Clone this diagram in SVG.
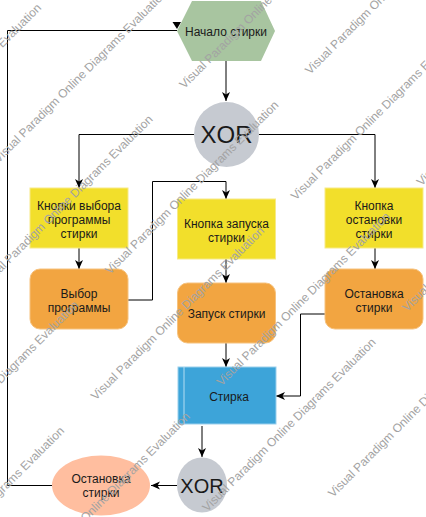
<svg xmlns="http://www.w3.org/2000/svg" width="426" height="517" viewBox="0 0 426 517">
<style>
text{font-family:"Liberation Sans",Arial,sans-serif;fill:#1a1a1a;text-anchor:middle}
.t{font-size:12px}
.c{fill:none;stroke:#000;stroke-width:1}
.y{fill:#F2DF2B;stroke:#F7EA86;stroke-width:1}
.o{fill:#F2A541;stroke:#F6C27E;stroke-width:1}
.x{fill:#C6CAD1}
.wm text{font-size:12px;fill:#a3a3a3;text-anchor:start}
</style>
<defs>
<marker id="ah" markerUnits="userSpaceOnUse" markerWidth="10" markerHeight="9" refX="9" refY="4" orient="auto">
<path d="M0,0 L9,4 L0,8 L2.5,4 Z" fill="#000"/>
</marker>
</defs>
<rect width="426" height="517" fill="#fff"/>
<g id="connectors">
<path class="c" d="M226,61 V101" marker-end="url(#ah)"/>
<path class="c" d="M194,134.5 H79 V188" marker-end="url(#ah)"/>
<path class="c" d="M259,134.5 H375 V188" marker-end="url(#ah)"/>
<path class="c" d="M79,248 V269" marker-end="url(#ah)"/>
<path class="c" d="M375,248 V269" marker-end="url(#ah)"/>
<path class="c" d="M128,300 H152.5 V181.5 H226 V199" marker-end="url(#ah)"/>
<path class="c" d="M226,259 V283" marker-end="url(#ah)"/>
<path class="c" d="M325,314 H300.5 V396 H276" marker-end="url(#ah)"/>
<path class="c" d="M226,343 V367" marker-end="url(#ah)"/>
<path class="c" d="M202,426 V457" marker-end="url(#ah)"/>
<path class="c" d="M177,485.5 H151" marker-end="url(#ah)"/>
<path class="c" d="M52,485.5 H7.5 V30.5 H177"/>
<polygon points="172.5,22 181,22 177,29" fill="#000"/>
</g>
<g id="start">
<polygon points="177,31 192,1 261,1 275,31 261,61 192,61" fill="#A8C5A0"/>
<text class="t" x="226" y="36">Начало стирки</text>
</g>
<g id="xor1">
<circle class="x" cx="226.5" cy="134.5" r="32.5"/>
<text x="226.5" y="143" font-size="24">XOR</text>
</g>
<g id="btn-select">
<rect class="y" x="30" y="188" width="98" height="60"/>
<text class="t" x="79" y="209.5">Кнопки выбора</text>
<text class="t" x="79" y="223.5">программы</text>
<text class="t" x="79" y="237.5">стирки</text>
</g>
<g id="btn-start">
<rect class="y" x="177.5" y="199" width="98" height="60"/>
<text class="t" x="226.5" y="227.5">Кнопка запуска</text>
<text class="t" x="226.5" y="241.5">стирки</text>
</g>
<g id="btn-stop">
<rect class="y" x="325" y="188" width="98" height="60"/>
<text class="t" x="374" y="209.5">Кнопка</text>
<text class="t" x="374" y="223.5">остановки</text>
<text class="t" x="374" y="237.5">стирки</text>
</g>
<g id="select">
<rect class="o" x="30" y="269" width="98" height="60" rx="10"/>
<text class="t" x="79" y="297.5">Выбор</text>
<text class="t" x="79" y="311.5">программы</text>
</g>
<g id="launch">
<rect class="o" x="177.5" y="283" width="98" height="60" rx="10"/>
<text class="t" x="226.5" y="318">Запуск стирки</text>
</g>
<g id="stop">
<rect class="o" x="325" y="269" width="98" height="60" rx="10"/>
<text class="t" x="374" y="297.5">Остановка</text>
<text class="t" x="374" y="311.5">стирки</text>
</g>
<g id="wash">
<rect x="178" y="367" width="98" height="57" fill="#3DA4D9" stroke="#9ACFEC" stroke-width="1"/>
<line x1="184" y1="367" x2="184" y2="424" stroke="#B5DDF2" stroke-width="1"/>
<text class="t" x="229" y="401">Стирка</text>
</g>
<g id="xor2">
<ellipse class="x" cx="202" cy="485" rx="25" ry="27.5"/>
<text x="202" y="493" font-size="20">XOR</text>
</g>
<g id="stop-wash">
<ellipse cx="101" cy="485.5" rx="49" ry="30" fill="#FFBE9F"/>
<text class="t" x="101" y="482.5">Остановка</text>
<text class="t" x="101" y="497">стирки</text>
</g>
<g id="watermark" class="wm">
<text x="-127.25" y="177.75" transform="rotate(-45 -127.25 177.75)">Visual Paradigm Online Diagrams Evaluation</text>
<text x="-1.5" y="163.5" transform="rotate(-45 -1.5 163.5)">Visual Paradigm Online Diagrams Evaluation</text>
<text x="-15.75" y="289.25" transform="rotate(-45 -15.75 289.25)">Visual Paradigm Online Diagrams Evaluation</text>
<text x="184.25" y="89.25" transform="rotate(-45 184.25 89.25)">Visual Paradigm Online Diagrams Evaluation</text>
<text x="-90" y="475" transform="rotate(-45 -90 475)">Visual Paradigm Online Diagrams Evaluation</text>
<text x="110" y="275" transform="rotate(-45 110 275)">Visual Paradigm Online Diagrams Evaluation</text>
<text x="310" y="75" transform="rotate(-45 310 75)">Visual Paradigm Online Diagrams Evaluation</text>
<text x="-104.25" y="600.75" transform="rotate(-45 -104.25 600.75)">Visual Paradigm Online Diagrams Evaluation</text>
<text x="95.75" y="400.75" transform="rotate(-45 95.75 400.75)">Visual Paradigm Online Diagrams Evaluation</text>
<text x="295.75" y="200.75" transform="rotate(-45 295.75 200.75)">Visual Paradigm Online Diagrams Evaluation</text>
<text x="21.5" y="586.5" transform="rotate(-45 21.5 586.5)">Visual Paradigm Online Diagrams Evaluation</text>
<text x="221.5" y="386.5" transform="rotate(-45 221.5 386.5)">Visual Paradigm Online Diagrams Evaluation</text>
<text x="421.5" y="186.5" transform="rotate(-45 421.5 186.5)">Visual Paradigm Online Diagrams Evaluation</text>
<text x="207.25" y="512.25" transform="rotate(-45 207.25 512.25)">Visual Paradigm Online Diagrams Evaluation</text>
<text x="407.25" y="312.25" transform="rotate(-45 407.25 312.25)">Visual Paradigm Online Diagrams Evaluation</text>
<text x="333" y="498" transform="rotate(-45 333 498)">Visual Paradigm Online Diagrams Evaluation</text>
</g>
</svg>
